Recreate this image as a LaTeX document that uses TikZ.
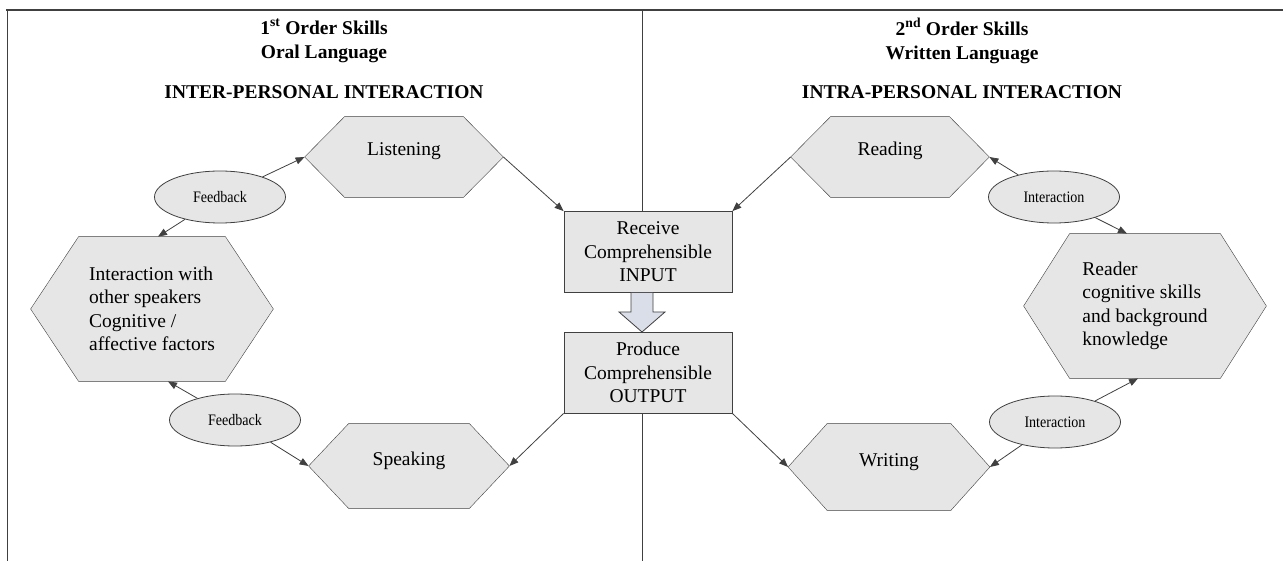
\documentclass[tikz,border=0pt]{standalone}
\usepackage{fontspec}
\setmainfont{Liberation Serif}
\newfontfamily\narrowfont[FakeStretch=0.88]{Liberation Serif}
\usetikzlibrary{shapes.geometric,arrows.meta,backgrounds}

\definecolor{boxgray}{HTML}{E6E6E6}
\definecolor{linegray}{HTML}{404040}
\definecolor{arrowblue}{HTML}{D9DEE8}

\tikzset{
  headline/.style={font=\fontsize{19.5}{24}\selectfont\bfseries,align=center},
  hexnode/.style={rectangle,inner sep=0pt,align=left},
  onelabel/.style={text height=13pt,text depth=15pt},
  bubble/.style={ellipse,draw=linegray,fill=boxgray,inner sep=0pt,minimum width=131pt,minimum height=52pt,font=\narrowfont\fontsize{16}{18}\selectfont},
  flowbox/.style={rectangle,draw=linegray,fill=boxgray,inner sep=0pt,minimum width=168pt,minimum height=81pt,align=center},
  flow/.style={draw=linegray,-{Triangle[length=9pt,width=7pt]}}
}

\newcommand{\hexoutline}[2]{%
  \filldraw[draw=linegray,fill=boxgray] (#1.west) -- ([xshift=#2]#1.north west) -- ([xshift=-#2]#1.north east)
    -- (#1.east) -- ([xshift=-#2]#1.south east) -- ([xshift=#2]#1.south west) -- cycle;}

\begin{document}
\begin{tikzpicture}[x=1pt,y=-1pt,line width=0.8pt,font=\fontsize{19.5}{23.5}\selectfont]
\def\blockarrow{(631,293) -- (631,312) -- (619,312) -- (642,332) -- (665,312) -- (653,312) -- (653,293)}

\useasboundingbox (0,0) rectangle (1283,561);

\draw[linegray,line width=1.8pt] (6,10) -- (1283,10);
\draw[linegray] (7,10) -- (7,561);
\draw[linegray] (642,10) -- (642,561);

\node[headline] (lefthead) at (324,41) {1\textsuperscript{st} Order Skills\\Oral Language};
\node[headline] (leftmode) at (324,92) {INTER-PERSONAL INTERACTION};
\node[headline] (righthead) at (962,41) {2\textsuperscript{nd} Order Skills\\Written Language};
\node[headline] (rightmode) at (962,92) {INTRA-PERSONAL INTERACTION};

\node[hexnode,onelabel,minimum width=198pt,minimum height=80pt] (listen) at (404,157) {Listening};
\node[hexnode,onelabel,minimum width=200pt,minimum height=84pt] (speak) at (409,466) {Speaking};
\node[hexnode,minimum width=242pt,minimum height=144pt] (speakers) at (152,309) {Interaction with\\other speakers\\Cognitive /\\affective factors};
\node[hexnode,onelabel,minimum width=198pt,minimum height=80pt] (read) at (890,157) {Reading};
\node[hexnode,onelabel,minimum width=201pt,minimum height=86pt] (write) at (889,467) {Writing};
\node[hexnode,minimum width=242pt,minimum height=144pt] (reader) at (1145,306) {Reader\\cognitive skills\\and background\\knowledge};

\begin{scope}[on background layer]
\hexoutline{listen}{40pt}
\hexoutline{speak}{40pt}
\hexoutline{speakers}{48pt}
\hexoutline{read}{40pt}
\hexoutline{write}{39pt}
\hexoutline{reader}{46pt}
\end{scope}

\node[bubble] (feedtop) at (220,197) {Feedback};
\node[bubble] (feedbot) at (235,420) {Feedback};
\node[bubble] (linktop) at (1054,197) {Interaction};
\node[bubble] (linkbot) at (1055,422) {Interaction};

\node[flowbox] (receive) at (648,252) {Receive\\Comprehensible\\INPUT};
\node[flowbox] (produce) at (648,372.5) {Produce\\Comprehensible\\OUTPUT};

\fill[arrowblue] \blockarrow -- cycle;
\draw[linegray] \blockarrow;

\draw[flow] (listen.east) -- (receive.north west);
\draw[flow] (feedtop) -- (listen.west);
\draw[flow] (feedtop) -- ([xshift=6pt]speakers.north);
\draw[flow] (feedbot) -- ([xshift=16pt]speakers.south);
\draw[flow] (feedbot) -- (speak.west);
\draw[flow] (produce.south west) -- (speak.east);

\draw[flow] (read.west) -- (receive.north east);
\draw[flow] (linktop) -- (read.east);
\draw[flow] (linktop) -- ([xshift=-18pt]reader.north);
\draw[flow] (linkbot) -- ([xshift=-7pt]reader.south);
\draw[flow] (linkbot) -- (write.east);
\draw[flow] (produce.south east) -- (write.west);
\end{tikzpicture}
\end{document}
